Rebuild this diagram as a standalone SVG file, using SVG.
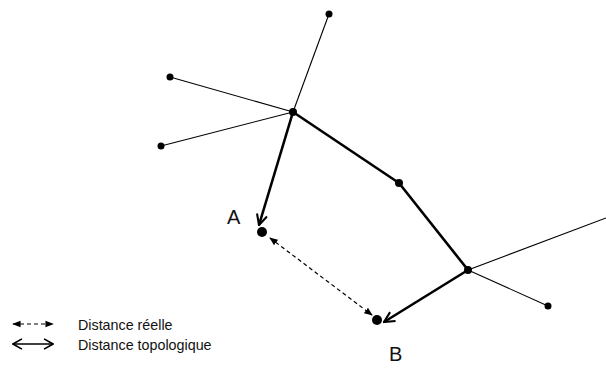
<svg xmlns="http://www.w3.org/2000/svg" width="606" height="370" viewBox="0 0 606 370">
<style>
.thin{stroke:#000;stroke-width:1.1;fill:none}
.thick{stroke:#000;stroke-width:2.6;fill:none}
.dash{stroke:#000;stroke-width:1.2;stroke-dasharray:4 3;fill:none}
.dot{fill:#000}
.lbl{font-family:"Liberation Sans",Arial,sans-serif;fill:#111}
</style>
<defs>
<marker id="vhead" viewBox="0 0 10 10" refX="9" refY="5" markerWidth="5" markerHeight="5" orient="auto-start-reverse" markerUnits="strokeWidth">
<path d="M1,1 L9,5 L1,9" fill="none" stroke="#000" stroke-width="1.6"/>
</marker>
<marker id="tri" viewBox="0 0 10 10" refX="9" refY="5" markerWidth="7" markerHeight="7" orient="auto-start-reverse" markerUnits="strokeWidth">
<path d="M0,1 L10,5 L0,9 z" fill="#000"/>
</marker>
<marker id="legv" viewBox="0 0 10 10" refX="9" refY="5" markerWidth="8" markerHeight="8" orient="auto-start-reverse" markerUnits="strokeWidth">
<path d="M2,1 L9,5 L2,9" fill="none" stroke="#000" stroke-width="1.3"/>
</marker>
</defs>
<g id="connectors">
<line class="thin" x1="329" y1="14" x2="293" y2="112"/>
<line class="thin" x1="170" y1="77" x2="293" y2="112"/>
<line class="thin" x1="161" y1="146" x2="293" y2="112"/>
<line class="thin" x1="468" y1="270" x2="606" y2="218"/>
<line class="thin" x1="468" y1="270" x2="548" y2="306"/>
<line class="thick" x1="293" y1="112" x2="399" y2="183"/>
<line class="thick" x1="399" y1="183" x2="468" y2="270"/>
<line class="thick" x1="293" y1="112" x2="259" y2="225" marker-end="url(#vhead)"/>
<line class="thick" x1="468" y1="270" x2="384" y2="322" marker-end="url(#vhead)"/>
<line class="dash" x1="270" y1="238" x2="372" y2="315" marker-start="url(#tri)" marker-end="url(#tri)"/>
</g>
<g id="node-top"><circle class="dot" cx="329" cy="14" r="3.5"/></g>
<g id="node-left1"><circle class="dot" cx="170" cy="77" r="3.5"/></g>
<g id="node-left2"><circle class="dot" cx="161" cy="146" r="3.5"/></g>
<g id="node-hub1"><circle class="dot" cx="293" cy="112" r="4"/></g>
<g id="node-mid"><circle class="dot" cx="399" cy="183" r="4"/></g>
<g id="node-hub2"><circle class="dot" cx="468" cy="270" r="4"/></g>
<g id="node-lowright"><circle class="dot" cx="548" cy="306" r="3.5"/></g>
<g id="node-A"><circle class="dot" cx="262" cy="232" r="5"/><text class="lbl" x="227" y="224" font-size="20">A</text></g>
<g id="node-B"><circle class="dot" cx="377" cy="320" r="5"/><text class="lbl" x="389" y="361" font-size="20">B</text></g>
<g id="legend">
<line class="dash" x1="13" y1="324" x2="53" y2="324" stroke-dasharray="4 4" marker-start="url(#tri)" marker-end="url(#tri)"/>
<text class="lbl" x="78" y="330" font-size="14.3">Distance réelle</text>
<line x1="13" y1="344" x2="53" y2="344" stroke="#000" stroke-width="1.6" marker-start="url(#legv)" marker-end="url(#legv)"/>
<text class="lbl" x="78" y="350" font-size="14.3">Distance topologique</text>
</g>
</svg>
